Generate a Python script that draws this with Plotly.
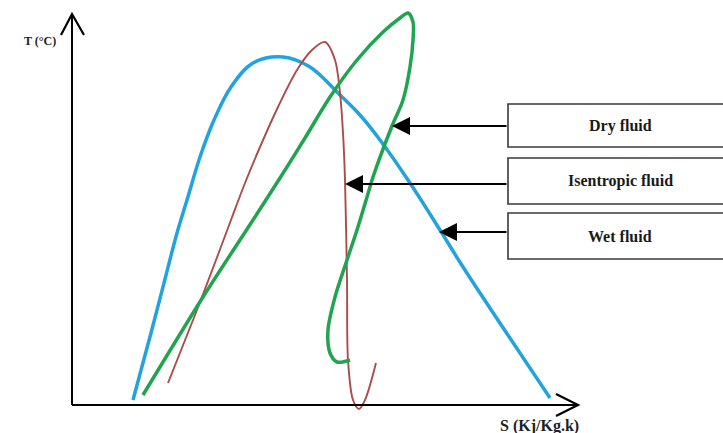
import plotly.graph_objects as go

# ---- data (S: entropy, T: temperature, arbitrary units) ----
wet_S = [61, 79, 92, 105, 115, 128, 142, 159, 181, 211, 238, 268, 288, 308, 338, 368, 391, 478]
wet_T = [5, 72, 122, 172, 205, 248, 285, 318, 342, 348, 338, 310, 290, 265, 222, 175, 138, 7]

isen_S = [96, 125, 144, 159, 173, 188, 206, 225, 240, 253, 263, 268, 271, 273, 275, 276, 281, 287, 293, 304]
isen_T = [22, 95, 145, 185, 222, 258, 298, 335, 355, 363, 345, 312, 272, 225, 125, 45, 5, -4, 5, 42]

dry_S = [71, 131, 181, 208, 233, 258, 285, 311, 328, 336, 341, 341, 338, 331, 320, 301, 298, 285, 275, 263, 256, 258, 265, 278]
dry_T = [10, 108, 185, 227, 267, 308, 345, 373, 387, 392, 383, 365, 338, 305, 279, 228, 218, 175, 145, 108, 75, 52, 43, 45]

labels = ["Dry fluid", "Isentropic fluid", "Wet fluid"]
label_tips_S = [320, 273, 367]
label_tips_T = [279, 221, 173]

x_title = "S (Kj/Kg.k)"
y_title = "T (°C)"

S_MAX, T_MAX = 506, 391

fig = go.Figure()
fig.add_trace(go.Scatter(x=wet_S, y=wet_T, mode="lines",
                         line=dict(color="#22a3df", width=3.5, shape="spline", smoothing=1.0)))
fig.add_trace(go.Scatter(x=isen_S, y=isen_T, mode="lines",
                         line=dict(color="#ab4c4a", width=1.9, shape="spline", smoothing=0.9)))
fig.add_trace(go.Scatter(x=dry_S, y=dry_T, mode="lines",
                         line=dict(color="#20a44f", width=3.5, shape="spline", smoothing=0.9)))

shapes = []
# axes
shapes.append(dict(type="line", xref="x", yref="y", x0=0, y0=0, x1=0, y1=T_MAX,
                   line=dict(color="black", width=2)))
shapes.append(dict(type="line", xref="x", yref="y", x0=0, y0=0, x1=S_MAX, y1=0,
                   line=dict(color="black", width=2)))
# open chevron heads
shapes.append(dict(type="path", xref="x", yref="y",
                   path=f"M -11 {T_MAX-21} L 0 {T_MAX} L 12 {T_MAX-21}",
                   line=dict(color="black", width=2.2)))
shapes.append(dict(type="path", xref="x", yref="y",
                   path=f"M {S_MAX-22} 11 L {S_MAX} 0 L {S_MAX-22} -11",
                   line=dict(color="black", width=2.2)))

# label boxes (run off the right edge, as in the reference)
box_tops = [301, 247, 192]
box_bots = [258, 201, 146]
box_left = 436
for top, bot in zip(box_tops, box_bots):
    shapes.append(dict(type="rect", xref="x", yref="y", x0=box_left, x1=670, y0=bot, y1=top,
                       line=dict(color="#3a3a3a", width=1.6), fillcolor="white"))

annotations = []
for lab, tS, tT, top, bot in zip(labels, label_tips_S, label_tips_T, box_tops, box_bots):
    annotations.append(dict(x=548, y=(top + bot) / 2, xref="x", yref="y", text=f"<b>{lab}</b>",
                            showarrow=False,
                            font=dict(family="Liberation Serif", size=16, color="#1a1a1a"),
                            xanchor="center", yanchor="middle"))
    annotations.append(dict(x=tS, y=tT, xref="x", yref="y", ax=box_left, ay=tT, axref="x", ayref="y",
                            text="", showarrow=True, arrowhead=2, arrowsize=1.8, arrowwidth=2,
                            arrowcolor="black", standoff=0))

annotations.append(dict(x=-14, y=364, xref="x", yref="y", text=f"<b>{y_title}</b>", showarrow=False,
                        font=dict(family="Liberation Serif", size=12, color="#222"),
                        xanchor="right", yanchor="middle"))
annotations.append(dict(x=467, y=-21, xref="x", yref="y", text=f"<b>{x_title}</b>", showarrow=False,
                        font=dict(family="Liberation Serif", size=16, color="#222"),
                        xanchor="center", yanchor="middle"))

fig.update_layout(
    width=723, height=433,
    margin=dict(l=0, r=0, t=0, b=0),
    paper_bgcolor="white", plot_bgcolor="white",
    showlegend=False,
    xaxis=dict(range=[-72, 651], visible=False, fixedrange=True),
    yaxis=dict(range=[-28, 405], visible=False, fixedrange=True),
    shapes=shapes, annotations=annotations,
)

fig.write_html(
    "out.html",
    config={"displayModeBar": False},
    post_script="document.body.style.margin='0';document.body.style.overflow='hidden';",
)
